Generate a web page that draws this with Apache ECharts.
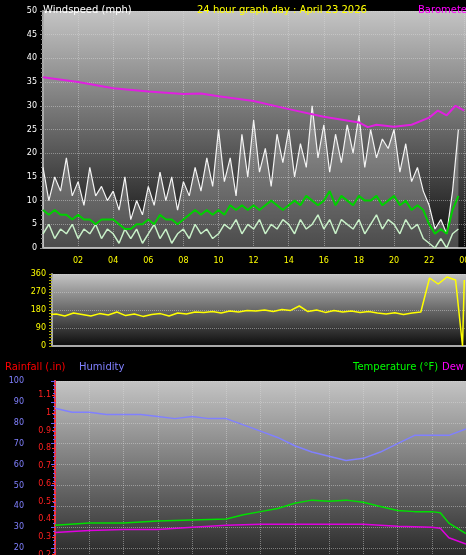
<!DOCTYPE html>
<html>
<head>
<meta charset="utf-8">
<script src="https://cdn.jsdelivr.net/npm/echarts@6/dist/echarts.min.js"></script>
<style>
html, body { margin: 0; padding: 0; background: #000; }
#chart { width: 466px; height: 555px; }
</style>
</head>
<body>
<div id="chart"></div>
<script>
// wind, 20 minute samples (mph)
var windGust = [17,10,15,12,19,11, 14,9,17,11,13,10, 12,8,15,6,10,7, 13,9,16,10,15,8,
    14,11,17,12,19,13, 25,14,19,11,24,15, 27,16,21,13,24,18, 25,15,22,17,30,19,
    26,16,24,18,26,20, 28,17,25,19,23,21, 25,16,22,14,17,12, 9,4,6,3,12,25];
var windAvg = [8,7,8,7,7,6, 7,6,6,5,6,6, 6,5,4,4,5,5, 6,5,7,6,6,5, 6,7,8,7,8,7,
    8,7,9,8,9,8, 9,8,9,10,9,8, 9,10,9,11,10,9, 10,12,9,11,10,9, 11,10,10,11,9,10,
    11,9,10,8,9,8, 5,3,4,3,8,11];
var windLull = [3,5,2,4,3,5, 2,4,3,5,2,4, 3,1,4,2,4,1, 3,5,2,4,1,3, 4,2,5,3,4,2,
    3,5,4,6,3,5, 4,6,3,5,4,6, 5,3,6,4,5,7, 4,6,3,6,5,4, 6,3,5,7,4,6,
    5,3,6,4,5,2, 1,0,2,0,3,4];
// barometer, drawn on the wind scale
var baroTimes = [0,2,4,6,8,9,10,12,14,16,18,18.5,19,20,21,22,22.5,23,23.5,24];
var baroVals = [36,35,33.7,33,32.5,32.6,32,31,29.3,27.7,26.5,25.5,26,25.6,26,27.5,29,28,30,29];
// wind direction, 30 minute samples (deg)
var dirVals = [155,160,150,165,158,150,162,155,170,152,160,148,
    158,162,150,165,160,170,168,172,165,175,170,178,
    175,180,172,182,178,200,172,180,168,178,170,175,
    168,172,165,160,166,158,165,170,340,310,345,330];
// hourly values for bottom panel
var humVals = [87,85,85,84,84,84,83,82,83,82,82,79,76,73,69,66,64,62,63,66,70,74,74,74,77];
var tempTimes = [0,2,4,6,8,10,11,12,13,14,15,16,17,18,19,20,21,22,22.5,23,24];
var tempVals = [31,32,32,33,33.5,34,36,37.5,39,41.5,43,42.5,43,42,40,38,37.5,37.5,37,32,27];
var dewTimes = [0,2,4,6,8,10,12,14,16,18,20,22,22.5,23,24];
var dewVals = [27.5,28.5,29,29,30,31,31.5,31.5,31.5,31.5,30.5,30,29.5,25,22];

function pairs(times, vals) {
    return vals.map(function(v, i) { return [times[i], v]; });
}
function stepped(vals, step) {
    return vals.map(function(v, i) { return [i * step, v]; });
}

var bg = new echarts.graphic.LinearGradient(0, 0, 0, 1, [
    { offset: 0, color: '#c4c4c4' }, { offset: 1, color: '#0c0c0c' }]);
var split = { show: true, lineStyle: { color: 'rgba(220,220,220,0.45)', type: 'dotted' } };
var small = { fontFamily: 'DejaVu Sans', fontSize: 8 };
var titleFont = { fontSize: 10, fontWeight: 'normal', fontFamily: 'DejaVu Sans' };

var chart = echarts.init(document.getElementById('chart'));
chart.setOption({
    backgroundColor: '#000',
    animation: false,
    title: [
        { text: 'Windspeed (mph)', left: 38, top: 0, textStyle: Object.assign({ color: '#fff' }, titleFont) },
        { text: '24 hour graph day : April 23 2026', left: 192, top: 0, textStyle: Object.assign({ color: '#ffff00' }, titleFont) },
        { text: 'Barometer', left: 413, top: 0, textStyle: Object.assign({ color: '#ff00ff' }, titleFont) },
        { text: 'Rainfall (.in)', left: 0, top: 357, textStyle: Object.assign({ color: '#ff0000' }, titleFont) },
        { text: 'Humidity', left: 74, top: 357, textStyle: Object.assign({ color: '#8080ff' }, titleFont) },
        { text: 'Temperature (°F)', left: 348, top: 357, textStyle: Object.assign({ color: '#00ff00' }, titleFont) },
        { text: 'Dew Point', left: 437, top: 357, textStyle: Object.assign({ color: '#ff00ff' }, titleFont) }
    ],
    grid: [
        { left: 43, width: 423, top: 11, height: 237, show: true, backgroundColor: bg, borderWidth: 0, outerBoundsMode: 'none' },
        { left: 52, width: 414, top: 274, height: 72, show: true, backgroundColor: bg, borderWidth: 0, outerBoundsMode: 'none' },
        { left: 55, width: 411, top: 381, height: 209, show: true, backgroundColor: bg, borderWidth: 0, outerBoundsMode: 'none' }
    ],
    xAxis: [
        { gridIndex: 0, type: 'value', min: 0, max: 24.1, interval: 2,
          axisLine: { lineStyle: { color: '#aaa', width: 2 } }, axisTick: { show: false },
          splitLine: split,
          axisLabel: { color: '#ffff00', fontSize: 8, fontFamily: 'DejaVu Sans', margin: 9, showMaxLabel: false,
              formatter: function(v) { if (v === 0) return ''; var h = v % 24; return (h < 10 ? '0' : '') + h; } } },
        { gridIndex: 1, type: 'value', min: 0.26, max: 24.1,
          axisLine: { lineStyle: { color: '#aaa', width: 2 } }, axisTick: { show: false },
          splitLine: { show: false }, axisLabel: { show: false } },
        { gridIndex: 2, type: 'value', min: 0, max: 24, interval: 2,
          axisLine: { show: false }, axisTick: { show: false },
          splitLine: split, axisLabel: { show: false } }
    ],
    yAxis: [
        { gridIndex: 0, type: 'value', min: 0, max: 50, interval: 5,
          axisLine: { show: true, lineStyle: { color: '#aaa', width: 2 } },
          axisTick: { show: true, length: 3, lineStyle: { color: '#888' } },
          minorTick: { show: true, splitNumber: 5, length: 2, lineStyle: { color: '#888' } },
          splitLine: split, axisLabel: Object.assign({ color: '#fff', margin: 6 }, small) },
        { gridIndex: 1, type: 'value', min: 0, max: 360, interval: 90,
          axisLine: { show: true, lineStyle: { color: '#aaa', width: 2 } },
          axisTick: { show: true, length: 3, lineStyle: { color: '#aa0' } },
          minorTick: { show: true, splitNumber: 6, length: 3, lineStyle: { color: '#aa0' } },
          splitLine: split, axisLabel: Object.assign({ color: '#ffff00', margin: 6 }, small) },
        { gridIndex: 2, type: 'value', position: 'left', min: 0, max: 100, interval: 10, offset: 25,
          axisLine: { show: true, lineStyle: { color: '#6060ff', width: 2 } },
          axisTick: { show: true, length: 4, lineStyle: { color: '#6060ff' } },
          minorTick: { show: true, splitNumber: 5, length: 2, lineStyle: { color: '#6060ff' } },
          splitLine: split, axisLabel: Object.assign({ color: '#8080ff', margin: 6 }, small) },
        { gridIndex: 2, type: 'value', position: 'left', min: 0, max: 1.18, interval: 0.1,
          axisLine: { show: true, lineStyle: { color: '#ff3030', width: 2, type: 'dotted' } },
          axisTick: { show: true, length: 3, lineStyle: { color: '#ff3030' } },
          splitLine: { show: false },
          axisLabel: Object.assign({ color: '#ff2020', margin: 4, showMaxLabel: false,
              formatter: function(v) { return v > 1.15 ? '' : String(+v.toFixed(1)); } }, small) }
    ],
    series: [
        { type: 'line', xAxisIndex: 0, yAxisIndex: 0, data: stepped(windGust, 1 / 3), symbol: 'none',
          lineStyle: { color: '#f4f4f4', width: 1.2 }, areaStyle: { color: 'rgba(240,240,240,0.4)', origin: 'start' } },
        { type: 'line', xAxisIndex: 0, yAxisIndex: 0, data: stepped(windLull, 1 / 3), symbol: 'none',
          lineStyle: { color: '#c8f0c8', width: 1.5 } },
        { type: 'line', xAxisIndex: 0, yAxisIndex: 0, data: stepped(windAvg, 1 / 3), symbol: 'none',
          lineStyle: { color: '#00d000', width: 2 } },
        { type: 'line', xAxisIndex: 0, yAxisIndex: 0, data: pairs(baroTimes, baroVals), symbol: 'none',
          lineStyle: { color: '#e020e0', width: 2 } },
        { type: 'line', xAxisIndex: 1, yAxisIndex: 1, data: stepped(dirVals, 0.5).concat([[23.9, 0], [24, 330]]), symbol: 'none',
          lineStyle: { color: '#ffff00', width: 1.5 } },
        { type: 'line', xAxisIndex: 2, yAxisIndex: 2, data: stepped(humVals, 1), symbol: 'none',
          lineStyle: { color: '#8080ff', width: 1.5 } },
        { type: 'line', xAxisIndex: 2, yAxisIndex: 2, data: pairs(tempTimes, tempVals), symbol: 'none',
          lineStyle: { color: '#00e000', width: 1.5 } },
        { type: 'line', xAxisIndex: 2, yAxisIndex: 2, data: pairs(dewTimes, dewVals), symbol: 'none',
          lineStyle: { color: '#e000e0', width: 1.5 } }
    ]
});
</script>
</body>
</html>
